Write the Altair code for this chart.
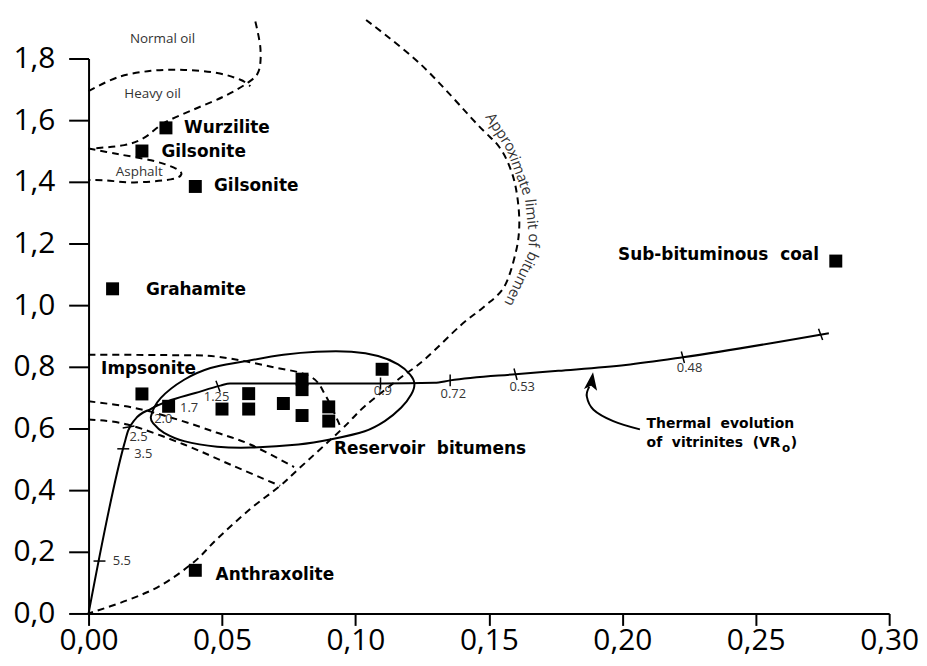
import altair as alt
import pandas as pd

# ---------------- data ----------------
# sample squares
pt_x = [0.029, 0.02, 0.04, 0.009, 0.02, 0.04, 0.28,
        0.03, 0.05, 0.06, 0.06, 0.073, 0.08, 0.08, 0.08, 0.09, 0.09, 0.11]
pt_y = [1.575, 1.50, 1.385, 1.053, 0.712, 0.14, 1.143,
        0.672, 0.663, 0.713, 0.663, 0.681, 0.76, 0.726, 0.642, 0.67, 0.624, 0.792]

# bold mineral names (left aligned)
name_text = ["Wurzilite", "Gilsonite", "Gilsonite", "Grahamite", "Impsonite",
             "Anthraxolite", "Reservoir\u00a0 bitumens"]
name_x = [0.0358, 0.0273, 0.047, 0.0215, 0.0047, 0.0476, 0.092]
name_y = [1.575, 1.498, 1.387, 1.048, 0.793, 0.124, 0.532]
coal_text = ["Sub-bituminous\u00a0 coal"]
coal_x = [0.2737]
coal_y = [1.161]

# oil region names
region_text = ["Normal oil", "Heavy oil", "Asphalt"]
region_x = [0.0277, 0.024, 0.019]
region_y = [1.864, 1.685, 1.433]

# vitrinite evolution path
vit_x = [0.0, 0.0134, 0.0148, 0.0175, 0.0234, 0.0296, 0.040, 0.0494, 0.053,
         0.08, 0.11, 0.1296, 0.1355, 0.160, 0.176, 0.2013, 0.2227, 0.2774]
vit_y = [0.0, 0.55, 0.592, 0.630, 0.664, 0.688, 0.715, 0.739, 0.746,
         0.746, 0.746, 0.748, 0.756, 0.776, 0.787, 0.806, 0.831, 0.909]

# VRo ticks on the path
vtick_x = [0.0041, 0.0130, 0.0150, 0.0243, 0.0485, 0.1094, 0.1355, 0.160, 0.2227, 0.2743]
vtick_y = [0.17, 0.534, 0.605, 0.668, 0.737, 0.746, 0.756, 0.776, 0.831, 0.905]
vtick_a = [90, 90, 80, 55, 340, 0, 0, 345, 345, 340]

# VRo labels
vlab_text = ["5.5", "3.5", "2.5", "2.0", "1.7", "1.25"]
vlab_x = [0.0091, 0.0171, 0.0153, 0.0246, 0.0343, 0.0432]
vlab_y = [0.17, 0.518, 0.573, 0.631, 0.667, 0.701]
vlab2_text = ["0.9", "0.72", "0.53", "0.48"]
vlab2_x = [0.1103, 0.1367, 0.1625, 0.2252]
vlab2_y = [0.72, 0.712, 0.734, 0.796]

# reservoir bitumen envelope (closed)
ell_x = [0.0234, 0.0271, 0.0358, 0.0457, 0.058, 0.073, 0.0855, 0.0985, 0.1085,
         0.1160, 0.1205, 0.1221, 0.1209, 0.1171, 0.111, 0.1035, 0.091, 0.0786,
         0.0606, 0.0482, 0.0358, 0.0283, 0.0246]
ell_y = [0.640, 0.699, 0.758, 0.796, 0.817, 0.839, 0.849, 0.849, 0.835,
         0.808, 0.775, 0.745, 0.710, 0.667, 0.624, 0.591, 0.565, 0.548,
         0.538, 0.541, 0.559, 0.586, 0.613]

# dashed boundaries
limit_x = [0.104, 0.1246, 0.1457, 0.1539, 0.1584, 0.1606, 0.1614, 0.160, 0.1557, 0.1482,
           0.1395, 0.1258, 0.1159, 0.1035, 0.0948, 0.0786, 0.0718, 0.0606, 0.0482,
           0.0395, 0.0271, 0.0146, 0.0]
limit_y = [1.925, 1.78, 1.586, 1.513, 1.435, 1.355, 1.258, 1.168, 1.059, 0.995,
           0.935, 0.823, 0.758, 0.672, 0.597, 0.468, 0.414, 0.339, 0.242,
           0.167, 0.091, 0.043, 0.0]
heavy_top_x = [0.0, 0.0109, 0.0234, 0.0358, 0.0482, 0.0569, 0.0606]
heavy_top_y = [1.694, 1.739, 1.760, 1.763, 1.753, 1.731, 1.710]
normal_x = [0.0625, 0.0644, 0.0637, 0.0594, 0.0507, 0.0395, 0.0283, 0.0209, 0.0134, 0.001]
normal_y = [1.920, 1.833, 1.758, 1.720, 1.677, 1.635, 1.591, 1.543, 1.519, 1.508]
asphalt_x = [0.0, 0.0109, 0.0234, 0.032, 0.0348, 0.0308, 0.0171, 0.006, 0.0]
asphalt_y = [1.508, 1.490, 1.470, 1.446, 1.425, 1.408, 1.398, 1.405, 1.406]
b084_x = [0.0, 0.03, 0.0482, 0.068, 0.083, 0.089, 0.0948]
b084_y = [0.839, 0.838, 0.833, 0.801, 0.769, 0.704, 0.597]
b068_x = [0.0, 0.0171, 0.0333, 0.0482, 0.0606, 0.0770]
b068_y = [0.688, 0.667, 0.629, 0.586, 0.548, 0.475]
b062_x = [0.0, 0.0146, 0.0358, 0.0544, 0.0718]
b062_y = [0.629, 0.613, 0.548, 0.478, 0.414]

# curved label along the bitumen limit
lim_text = ["Appro", "ximate", "limit", "of", "bitumen"]
lim_x = [0.1545, 0.1617, 0.1660, 0.1668, 0.1622]
lim_y = [1.561, 1.431, 1.295, 1.21, 1.085]
lim_a = [57, 70, 84, 92, 116]

# thermal evolution arrow
arrow_x = [0.2066, 0.1966, 0.1892, 0.1867, 0.1876]
arrow_y = [0.597, 0.624, 0.661, 0.704, 0.735]
head_x = [0.1885]
head_y = [0.750]

x_ticks = [0.0, 0.05, 0.10, 0.15, 0.20, 0.25, 0.30]
y_ticks = [0.0, 0.2, 0.4, 0.6, 0.8, 1.0, 1.2, 1.4, 1.6, 1.8]

# ---------------- build ----------------
XS = alt.Scale(domain=[0, 0.30], nice=False, zero=False)
YS = alt.Scale(domain=[0, 1.8], nice=False, zero=False)

x_axis = alt.Axis(values=x_ticks, tickSize=12, tickWidth=2, domainWidth=2,
                  domainColor="black", tickColor="black", labelColor="black",
                  labelFont="Open Sans", labelFontSize=30, labelPadding=0,
                  labelFlush=False, grid=False, title=None,
                  labelExpr="replace(format(datum.value, '.2f'), '.', ',')")
y_axis = alt.Axis(values=y_ticks, tickSize=20, tickWidth=2, domainWidth=2,
                  domainColor="black", tickColor="black", labelColor="black",
                  labelFont="Open Sans", labelFontSize=30, labelPadding=14,
                  labelFlush=False, grid=False, title=None,
                  labelExpr="replace(format(datum.value, '.1f'), '.', ',')")

X = alt.X("x:Q", scale=XS, axis=x_axis)
Y = alt.Y("y:Q", scale=YS, axis=y_axis)


def path_df(xs, ys, name="c"):
    return pd.DataFrame({"x": xs, "y": ys, "i": list(range(len(xs))), "curve": name})


dashed = pd.concat([
    path_df(limit_x, limit_y, "limit"),
    path_df(heavy_top_x, heavy_top_y, "heavy"),
    path_df(normal_x, normal_y, "normal"),
    path_df(asphalt_x, asphalt_y, "asphalt"),
    path_df(b084_x, b084_y, "b084"),
    path_df(b068_x, b068_y, "b068"),
    path_df(b062_x, b062_y, "b062"),
])

dashed_layer = alt.Chart(dashed).mark_line(
    interpolate="cardinal", strokeDash=[7, 5], strokeWidth=2, color="black"
).encode(x=X, y=Y, detail="curve:N", order="i:Q")

ell_layer = alt.Chart(path_df(ell_x, ell_y)).mark_line(
    interpolate="cardinal-closed", strokeWidth=2, color="black"
).encode(x=X, y=Y, order="i:Q")

vit_layer = alt.Chart(path_df(vit_x, vit_y)).mark_line(
    interpolate="monotone", strokeWidth=2, color="black"
).encode(x=X, y=Y, order="i:Q")

vtick_layer = alt.Chart(pd.DataFrame({"x": vtick_x, "y": vtick_y, "a": vtick_a})).mark_point(
    shape="M0,-1L0,1", filled=False, strokeWidth=1.5, size=144, color="black", opacity=1
).encode(x=X, y=Y, angle=alt.Angle("a:Q", scale=None))

pts_layer = alt.Chart(pd.DataFrame({"x": pt_x, "y": pt_y})).mark_point(
    shape="square", filled=True, size=170, color="black", opacity=1
).encode(x=X, y=Y)

names_layer = alt.Chart(pd.DataFrame({"x": name_x, "y": name_y, "t": name_text})).mark_text(
    font="DejaVu Sans", fontWeight="bold", fontSize=17, align="left", baseline="middle", color="black"
).encode(x=X, y=Y, text="t:N")

coal_layer = alt.Chart(pd.DataFrame({"x": coal_x, "y": coal_y, "t": coal_text})).mark_text(
    font="DejaVu Sans", fontWeight="bold", fontSize=17, align="right", baseline="middle", color="black"
).encode(x=X, y=Y, text="t:N")

region_layer = alt.Chart(pd.DataFrame({"x": region_x, "y": region_y, "t": region_text})).mark_text(
    font="Open Sans", fontSize=13.5, align="center", baseline="middle", color="#333333"
).encode(x=X, y=Y, text="t:N")

vlab_layer = alt.Chart(pd.DataFrame({"x": vlab_x, "y": vlab_y, "t": vlab_text})).mark_text(
    font="Open Sans", fontSize=13, align="left", baseline="middle", color="#333333"
).encode(x=X, y=Y, text="t:N")

vlab2_layer = alt.Chart(pd.DataFrame({"x": vlab2_x, "y": vlab2_y, "t": vlab2_text})).mark_text(
    font="Open Sans", fontSize=13, align="center", baseline="middle", color="#333333"
).encode(x=X, y=Y, text="t:N")

lim_layer = alt.Chart(pd.DataFrame({"x": lim_x, "y": lim_y, "t": lim_text, "a": lim_a})).mark_text(
    font="Open Sans", fontSize=15, align="center", baseline="middle", color="#333333"
).encode(x=X, y=Y, text="t:N", angle=alt.Angle("a:Q", scale=None))

arrow_layer = alt.Chart(path_df(arrow_x, arrow_y)).mark_line(
    interpolate="cardinal", strokeWidth=2, color="black"
).encode(x=X, y=Y, order="i:Q")

head_layer = alt.Chart(pd.DataFrame({"x": head_x, "y": head_y})).mark_point(
    shape="M0,-1L0.65,0.75L0,0.35L-0.65,0.75Z", filled=True, size=420, color="black",
    opacity=1, angle=8
).encode(x=X, y=Y)

thermal_df = pd.DataFrame({
    "x": [0.2091, 0.2091, 0.2598, 0.2631],
    "y": [0.613, 0.554, 0.535, 0.554],
    "t": ["Thermal\u00a0 evolution", "of\u00a0 vitrinites\u00a0 (VR", "o", ")"],
    "s": [14, 14, 12, 14],
})
thermal_layer = alt.Chart(thermal_df).mark_text(
    font="DejaVu Sans", fontWeight="bold", align="left", baseline="middle", color="black"
).encode(x=X, y=Y, text="t:N", size=alt.Size("s:Q", scale=None, legend=None))

chart = alt.layer(
    dashed_layer, ell_layer, vit_layer, vtick_layer, arrow_layer, head_layer,
    pts_layer, names_layer, coal_layer, region_layer, vlab_layer, vlab2_layer,
    lim_layer, thermal_layer
).properties(
    width=805, height=558,
    autosize=alt.AutoSizeParams(type="none"),
    padding={"left": 81, "top": 49, "right": 30, "bottom": 43},
    background="white",
).configure_view(stroke=None)

chart.save("out.html", embed_options={"renderer": "svg", "actions": False})
